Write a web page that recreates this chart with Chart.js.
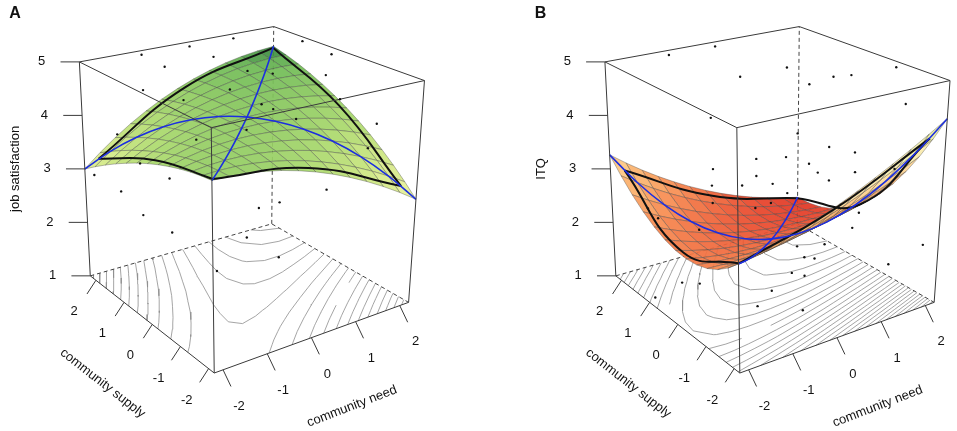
<!DOCTYPE html>
<html>
<head>
<meta charset="utf-8">
<title>Response surfaces</title>
<script src="https://cdn.jsdelivr.net/npm/chart.js@4.4.1/dist/chart.umd.min.js"></script>
<style>
  html, body { margin: 0; padding: 0; background: #fff; }
  #wrap { position: relative; width: 957px; height: 431px; }
</style>
</head>
<body>
<div id="wrap"><canvas id="surfaces"></canvas></div>
<script>
var gridNeed = [-2.2, -1.833, -1.467, -1.1, -0.733, -0.367, 0, 0.367, 0.733, 1.1, 1.467, 1.833, 2.2];
var gridSupply = [-2.2, -1.833, -1.467, -1.1, -0.733, -0.367, 0, 0.367, 0.733, 1.1, 1.467, 1.833, 2.2];

// one row per supply value (low -> high), columns follow gridNeed
var jobSatisfaction = [
  [4.139, 4.136, 4.114, 4.073, 4.014, 3.935, 3.838, 3.722, 3.587, 3.433, 3.261, 3.070, 2.859],
  [4.115, 4.132, 4.130, 4.109, 4.070, 4.011, 3.934, 3.838, 3.723, 3.589, 3.437, 3.265, 3.075],
  [4.078, 4.115, 4.133, 4.132, 4.113, 4.074, 4.017, 3.941, 3.846, 3.732, 3.600, 3.448, 3.278],
  [4.028, 4.085, 4.123, 4.142, 4.143, 4.124, 4.087, 4.031, 3.956, 3.862, 3.750, 3.619, 3.468],
  [3.965, 4.042, 4.100, 4.140, 4.160, 4.162, 4.144, 4.108, 4.053, 3.980, 3.887, 3.776, 3.646],
  [3.890, 3.987, 4.065, 4.124, 4.164, 4.186, 4.189, 4.173, 4.138, 4.084, 4.011, 3.920, 3.810],
  [3.801, 3.918, 4.016, 4.095, 4.156, 4.197, 4.220, 4.224, 4.209, 4.175, 4.123, 4.051, 3.961],
  [3.700, 3.836, 3.954, 4.054, 4.134, 4.196, 4.238, 4.262, 4.268, 4.254, 4.221, 4.170, 4.100],
  [3.585, 3.742, 3.880, 3.999, 4.100, 4.181, 4.244, 4.288, 4.313, 4.319, 4.307, 4.276, 4.225],
  [3.458, 3.635, 3.793, 3.932, 4.052, 4.154, 4.237, 4.301, 4.346, 4.372, 4.380, 4.368, 4.338],
  [3.318, 3.514, 3.692, 3.852, 3.992, 4.114, 4.216, 4.300, 4.366, 4.412, 4.439, 4.448, 4.438],
  [3.165, 3.381, 3.579, 3.759, 3.919, 4.061, 4.183, 4.287, 4.373, 4.439, 4.486, 4.515, 4.525],
  [2.998, 3.235, 3.453, 3.653, 3.833, 3.995, 4.137, 4.261, 4.366, 4.453, 4.520, 4.569, 4.599]
];
var itq = [
  [2.779, 2.832, 2.900, 2.980, 3.074, 3.182, 3.303, 3.437, 3.585, 3.746, 3.921, 4.110, 4.311],
  [2.596, 2.627, 2.671, 2.729, 2.801, 2.886, 2.984, 3.096, 3.221, 3.360, 3.512, 3.678, 3.857],
  [2.453, 2.462, 2.484, 2.519, 2.568, 2.630, 2.706, 2.795, 2.898, 3.014, 3.144, 3.287, 3.443],
  [2.351, 2.337, 2.337, 2.350, 2.376, 2.416, 2.469, 2.535, 2.615, 2.709, 2.816, 2.936, 3.070],
  [2.290, 2.253, 2.230, 2.221, 2.224, 2.241, 2.272, 2.316, 2.373, 2.444, 2.529, 2.627, 2.738],
  [2.269, 2.210, 2.164, 2.132, 2.113, 2.108, 2.116, 2.137, 2.172, 2.220, 2.282, 2.357, 2.446],
  [2.289, 2.208, 2.139, 2.084, 2.043, 2.015, 2.000, 1.999, 2.011, 2.037, 2.076, 2.129, 2.195],
  [2.350, 2.246, 2.155, 2.077, 2.013, 1.962, 1.925, 1.901, 1.891, 1.894, 1.911, 1.941, 1.984],
  [2.451, 2.324, 2.210, 2.110, 2.024, 1.950, 1.891, 1.844, 1.811, 1.792, 1.786, 1.793, 1.814],
  [2.593, 2.443, 2.307, 2.184, 2.075, 1.979, 1.897, 1.828, 1.772, 1.730, 1.702, 1.686, 1.685],
  [2.775, 2.603, 2.444, 2.299, 2.167, 2.049, 1.944, 1.852, 1.774, 1.709, 1.658, 1.620, 1.596],
  [2.998, 2.803, 2.622, 2.454, 2.300, 2.158, 2.031, 1.917, 1.816, 1.729, 1.655, 1.595, 1.548],
  [3.262, 3.044, 2.840, 2.650, 2.473, 2.309, 2.159, 2.022, 1.899, 1.789, 1.693, 1.610, 1.540]
];

// hull of the data (corner, edge middle, corner, ...) with the surface height there
var hullNeed = [-2.15, -2.075, -2.0, 0.075, 2.15, 2.075, 2.0, -0.075];
var hullSupply = [-2.15, -0.075, 2.0, 2.075, 2.15, 0.075, -2.0, -2.075];
var hullJob = [4.14, 3.86, 3.22, 4.18, 4.59, 4.02, 3.09, 3.89];
var hullItq = [2.76, 2.25, 3.00, 2.08, 1.55, 2.13, 3.95, 3.17];

// raw observations
var dotNeedA = [1.21, 0.22, -0.83, 0.51, -0.59, 2.17, 2.15, 1.71, -1.09, 0.95, 1.85, -0.07, 0.63, 1.87, 1.39, -1.71, -1.38,
  1.89, 2.05, 0.15, -1.69, -0.61, -2.08, -2.13, -1.72, -1.96, -1.76, -1.40, 1.72, 1.39, 1.49, 1.27, 1.07, -0.38];
var dotSupplyA = [2.1, 2.1, 2.15, 1.76, 1.76, 1.32, 0.44, 0.0, 1.76, 1.32, 1.76, 0.44, 0.44, 1.76, -0.88, 1.76, 0.0,
  -1.32, -0.88, -1.32, -0.88, -0.88, 0.44, 1.98, 0.0, 1.32, 0.88, 0.44, 1.98, 0.88, -0.44, 1.76, 0.44, 0.44];
var dotJobA = [4.95, 4.95, 4.94, 4.79, 4.78, 4.93, 4.89, 4.68, 4.42, 4.56, 4.23, 4.62, 4.22, 3.52, 4.51, 3.70, 4.77,
  4.07, 3.47, 4.50, 4.37, 4.34, 3.65, 2.95, 3.45, 2.84, 2.52, 2.28, 1.51, 2.07, 2.70, 1.11, 1.25, 1.35];

var dotNeedB = [0.22, -0.79, 1.26, 0.53, 1.32, 1.71, 2.02, 1.44, 1.94, -1.35, 1.85, 1.59, 1.85, 0.57, 1.75, 1.14,
  1.67, 1.22, -0.58, 0.89, 0.95, 1.45, 0.96, -0.07, -1.35, 0.34, 1.34, 1.85, 2.0, 1.58, 1.07, 0.99, 1.54, -0.15,
  -0.90, 0.45, -0.49, -0.93, -1.38, -1.50, -2.14, 1.54, -2.09, -2.15, -1.91, -0.68, 0.28, -1.94];
var dotSupplyB = [2.1, 2.15, 1.32, 1.76, 0.0, 0.0, -0.88, 0.88, -1.32, 0.0, 1.76, 0.44, 0.0, 1.32, 1.98, 0.44,
  0.88, -0.88, 1.10, 1.76, 1.32, -1.76, -0.44, 0.88, 0.0, 0.0, -0.88, 0.0, -2.0, -1.54, 0.44, 0.0, 0.44, -0.88,
  -1.32, -0.44, -1.76, -0.88, 0.44, 0.88, 0.88, 1.32, 1.10, 0.66, -0.88, -0.44, 0.44, -0.44];
var dotItqB = [4.95, 4.93, 4.57, 4.40, 4.72, 4.68, 4.98, 4.33, 4.42, 4.45, 3.04, 3.22, 3.19, 2.94, 2.52, 3.00,
  2.58, 3.21, 3.05, 2.40, 2.38, 3.46, 2.99, 2.71, 3.25, 2.76, 2.44, 1.76, 2.03, 1.65, 1.25, 1.40, 1.38, 1.72,
  1.74, 1.37, 1.45, 1.33, 1.36, 1.24, 1.12, 1.03, 2.63, 2.62, 3.33, 2.85, 2.45, 2.74];

var needRange = [-2.2, 2.2];
var supplyRange = [-2.2, 2.2];
var scoreRange = [1, 5];
var needTicks = [-2, -1, 0, 1, 2];
var supplyTicks = [-2, -1, 0, 1, 2];
var scoreTicks = [1, 2, 3, 4, 5];

// where the box of panel A lands on the chart (chart units = px), B is shifted right
var floorFrame = { front: [212, 376], right: [408, 304], left: [87, 277], back: [270, 224] };
var roofFrame = { front: [209, 126], right: [424, 78], left: [76, 59], back: [272, 23] };

var greens = [[2.85, '#eef3a4'], [3.2, '#dcec8e'], [3.55, '#c6e47c'], [3.9, '#a9d86c'], [4.2, '#8dca60'], [4.45, '#6eba55'], [4.6, '#2f7f3b']];
var heat = [[1.5, '#de3020'], [1.8, '#e9482c'], [2.1, '#f0693c'], [2.4, '#f6884e'], [2.7, '#faa662'], [3.0, '#fdc47e'],
  [3.3, '#fde0a0'], [3.7, '#f8f0b4'], [4.3, '#d8ea8c']];

var GAP = { x: null, y: null };
var FONT = '"Liberation Sans", Arial, sans-serif';

function project(dx, n, s, z) {
  var u = (n - needRange[0]) / (needRange[1] - needRange[0]);
  var v = (s - supplyRange[0]) / (supplyRange[1] - supplyRange[0]);
  var w = (z - scoreRange[0]) / (scoreRange[1] - scoreRange[0]);
  function quad(f, k) {
    return (1 - u) * (1 - v) * f.front[k] + u * (1 - v) * f.right[k] + (1 - u) * v * f.left[k] + u * v * f.back[k];
  }
  return { x: dx + quad(floorFrame, 0) * (1 - w) + quad(roofFrame, 0) * w,
           y: quad(floorFrame, 1) * (1 - w) + quad(roofFrame, 1) * w };
}

function hexRgb(h) {
  return [parseInt(h.substr(1, 2), 16), parseInt(h.substr(3, 2), 16), parseInt(h.substr(5, 2), 16)];
}

function rampColor(stops, z, alpha) {
  var a = stops[0], b = stops[0], t = 0;
  if (z >= stops[stops.length - 1][0]) { a = b = stops[stops.length - 1]; }
  else {
    for (var k = 1; k < stops.length; k++) {
      if (z <= stops[k][0]) {
        a = stops[k - 1]; b = stops[k];
        t = Math.max(0, (z - a[0]) / (b[0] - a[0]));
        break;
      }
    }
  }
  var ca = hexRgb(a[1]), cb = hexRgb(b[1]);
  return 'rgba(' + Math.round(ca[0] + (cb[0] - ca[0]) * t) + ',' + Math.round(ca[1] + (cb[1] - ca[1]) * t) + ',' +
    Math.round(ca[2] + (cb[2] - ca[2]) * t) + ',' + alpha + ')';
}

// marching squares on the read grid
function contourSegments(grid, level) {
  var segs = [];
  for (var j = 0; j < gridSupply.length - 1; j++) {
    for (var i = 0; i < gridNeed.length - 1; i++) {
      var c = [[i, j], [i + 1, j], [i + 1, j + 1], [i, j + 1]];
      var pts = [];
      for (var e = 0; e < 4; e++) {
        var a = c[e], b = c[(e + 1) % 4];
        var za = grid[a[1]][a[0]], zb = grid[b[1]][b[0]];
        if ((za - level) * (zb - level) < 0) {
          var t = (level - za) / (zb - za);
          pts.push([gridNeed[a[0]] + t * (gridNeed[b[0]] - gridNeed[a[0]]),
                    gridSupply[a[1]] + t * (gridSupply[b[1]] - gridSupply[a[1]])]);
        }
      }
      if (pts.length === 2) segs.push(pts);
      else if (pts.length === 4) { segs.push([pts[0], pts[1]]); segs.push([pts[2], pts[3]]); }
    }
  }
  return segs;
}

var sets = [];
function addLine(points, style) {
  sets.push(Object.assign({ data: points, pointRadius: 0, fill: false, tension: 0, spanGaps: false, borderWidth: 1 }, style));
}

var panels = [
  { dx: 0, grid: jobSatisfaction, hullZ: hullJob, dotN: dotNeedA, dotS: dotSupplyA, dotZ: dotJobA,
    stops: greens, firstLevel: 2.85, levels: 18, letter: 'A', title: 'job satisfaction' },
  { dx: 530, grid: itq, hullZ: hullItq, dotN: dotNeedB, dotS: dotSupplyB, dotZ: dotItqB,
    stops: heat, firstLevel: 1.55, levels: 28, letter: 'B', title: 'ITQ' }
];

panels.forEach(function (p) {
  var P = function (n, s, z) { return project(p.dx, n, s, z); };
  var n0 = needRange[0], n1 = needRange[1], s0 = supplyRange[0], s1 = supplyRange[1];
  var z0 = scoreRange[0], z1 = scoreRange[1];
  var grid = p.grid;

  // contour lines on the floor
  var cpts = [];
  for (var k = 0; k < p.levels; k++) {
    contourSegments(grid, p.firstLevel + k * 0.1).forEach(function (seg) {
      cpts.push(P(seg[0][0], seg[0][1], z0), P(seg[1][0], seg[1][1], z0), GAP);
    });
  }
  addLine(cpts, { borderColor: '#8e8e8e', borderWidth: 0.8 });

  // hidden box edges
  addLine([P(n0, s1, z0), P(n1, s1, z0), P(n1, s0, z0), GAP, P(n1, s1, z0), P(n1, s1, z1)],
    { borderColor: '#444', borderWidth: 1, borderDash: [4, 3] });

  // surface facets, far ones first
  var cells = [];
  for (var j = 0; j < gridSupply.length - 1; j++) {
    for (var i = 0; i < gridNeed.length - 1; i++) {
      var zc = (grid[j][i] + grid[j][i + 1] + grid[j + 1][i] + grid[j + 1][i + 1]) / 4;
      cells.push({ i: i, j: j, z: zc, depth: i + j });
    }
  }
  cells.sort(function (a, b) { return b.depth - a.depth; });
  cells.forEach(function (c) {
    var i = c.i, j = c.j;
    var q = [P(gridNeed[i], gridSupply[j], grid[j][i]), P(gridNeed[i + 1], gridSupply[j], grid[j][i + 1]),
             P(gridNeed[i + 1], gridSupply[j + 1], grid[j + 1][i + 1]), P(gridNeed[i], gridSupply[j + 1], grid[j + 1][i])];
    q.push(q[0]);
    addLine(q, { fill: 'shape', backgroundColor: rampColor(p.stops, c.z, 0.93),
      borderColor: 'rgba(70,70,70,0.75)', borderWidth: 0.5 });
  });

  // hull outline, one curved piece per side
  for (var h = 0; h < hullNeed.length; h += 2) {
    var pts = [];
    for (var m = 0; m < 3; m++) {
      var idx = (h + m) % hullNeed.length;
      pts.push(P(hullNeed[idx], hullSupply[idx], p.hullZ[idx]));
    }
    addLine(pts, { borderColor: '#111', borderWidth: 2, tension: 0.45 });
  }

  // lines of congruence and incongruence
  var loc = [], loic = [];
  for (var d = 0; d < gridNeed.length; d++) {
    var r = gridNeed.length - 1 - d;
    loc.push(P(gridNeed[d], gridSupply[d], grid[d][d]));
    loic.push(P(gridNeed[d], gridSupply[r], grid[r][d]));
  }
  addLine(loc, { borderColor: '#1c2ee0', borderWidth: 1.6, tension: 0.4 });
  addLine(loic, { borderColor: '#1c2ee0', borderWidth: 1.6, tension: 0.4 });

  // visible box edges
  addLine([P(n0, s1, z0), P(n0, s0, z0), P(n1, s0, z0), GAP,
           P(n0, s1, z1), P(n0, s0, z1), P(n1, s0, z1), P(n1, s1, z1), P(n0, s1, z1), GAP,
           P(n0, s0, z0), P(n0, s0, z1), GAP, P(n0, s1, z0), P(n0, s1, z1), GAP,
           P(n1, s0, z0), P(n1, s0, z1)],
    { borderColor: '#3a3a3a', borderWidth: 1 });

  // tick marks
  var tk = [];
  needTicks.forEach(function (t) {
    var a = P(t, s0, z0); tk.push(a, { x: a.x + 8, y: a.y + 17 }, GAP);
  });
  supplyTicks.forEach(function (t) {
    var a = P(n0, t, z0); tk.push(a, { x: a.x - 9, y: a.y + 14 }, GAP);
  });
  scoreTicks.forEach(function (t) {
    var a = P(n0, s1, t); tk.push(a, { x: a.x - 19, y: a.y }, GAP);
  });
  addLine(tk, { borderColor: '#3a3a3a', borderWidth: 1 });

  // observations
  var dots = [];
  for (var o = 0; o < p.dotN.length; o++) dots.push(P(p.dotN[o], p.dotS[o], p.dotZ[o]));
  sets.push({ data: dots, showLine: false, pointRadius: 1.2, pointBorderWidth: 0,
    pointBackgroundColor: '#111', borderColor: '#111' });
});

// chart.js paints dataset 0 last, so flip the painting order
sets.reverse();

var textPlugin = {
  id: 'panelText',
  afterDatasetsDraw: function (chart) {
    var c = chart.ctx, xs = chart.scales.x, ys = chart.scales.y;
    function put(pt, dx, dy, text, font, angle) {
      c.save();
      c.translate(xs.getPixelForValue(pt.x + dx), ys.getPixelForValue(pt.y + dy));
      c.rotate((angle || 0) * Math.PI / 180);
      c.font = font;
      c.fillStyle = '#111';
      c.textAlign = 'center';
      c.textBaseline = 'middle';
      c.fillText(text, 0, 0);
      c.restore();
    }
    var tickFont = '13px ' + FONT, titleFont = '13px ' + FONT;
    panels.forEach(function (p) {
      var P = function (n, s, z) { return project(p.dx, n, s, z); };
      needTicks.forEach(function (t) { put(P(t, supplyRange[0], scoreRange[0]), 16, 37, String(t), tickFont); });
      supplyTicks.forEach(function (t) { put(P(needRange[0], t, scoreRange[0]), -22, 32, String(t), tickFont); });
      scoreTicks.forEach(function (t) { put(P(needRange[0], supplyRange[1], t), -38, 0, String(t), tickFont); });
      put(P(0, supplyRange[0], scoreRange[0]), 41, 70, 'community need', titleFont, -21);
      put(P(needRange[0], 0, scoreRange[0]), -50, 60, 'community supply', titleFont, 38);
      put(P(needRange[0], supplyRange[1], 3), -70, 0, p.title, titleFont, -90);
      put(P(needRange[0], supplyRange[1], scoreRange[1]), -65, -49, p.letter, 'bold 16px ' + FONT);
    });
  }
};

new Chart(document.getElementById('surfaces'), {
  type: 'line',
  data: { datasets: sets },
  options: {
    responsive: true,
    maintainAspectRatio: false,
    animation: false,
    events: [],
    layout: { padding: 0 },
    scales: {
      x: { type: 'linear', min: 0, max: 957, display: false },
      y: { type: 'linear', min: 0, max: 431, reverse: true, display: false }
    },
    plugins: { legend: { display: false }, tooltip: { enabled: false } }
  },
  plugins: [textPlugin]
});
</script>
</body>
</html>
